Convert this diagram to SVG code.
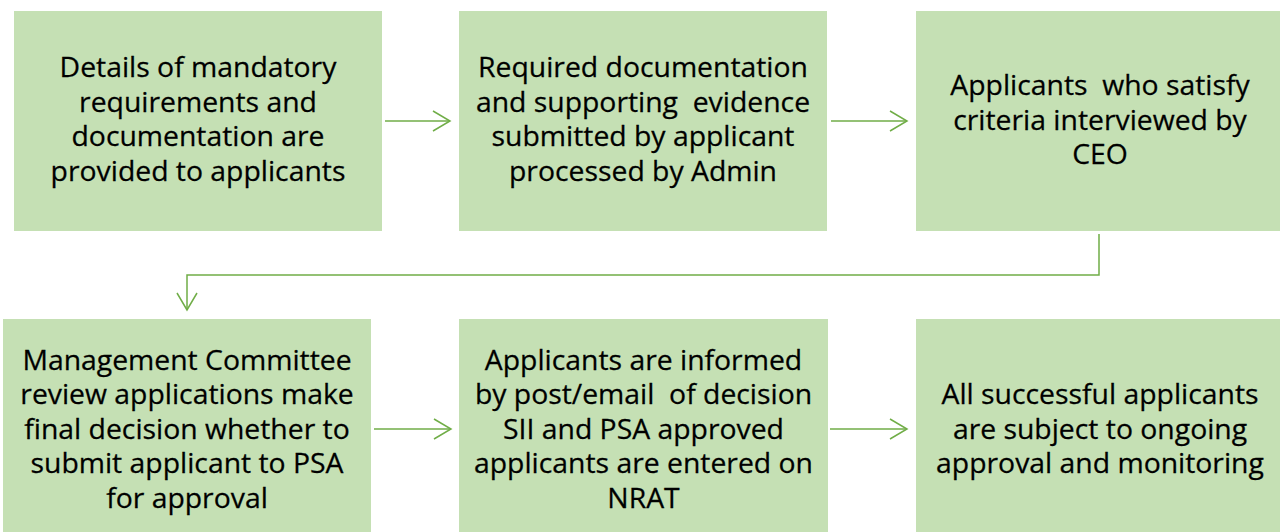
<svg xmlns="http://www.w3.org/2000/svg" width="1280" height="532" viewBox="0 0 1280 532">
  <style>
    .box { fill: #C5E0B4; }
    .lbl { font-family: "Open Sans", "Noto Sans", "Liberation Sans", sans-serif; font-size: 27px; fill: #000000; stroke: #000000; stroke-width: 0.25; text-anchor: middle; white-space: pre; }
    .conn { fill: none; stroke: #70AD47; stroke-width: 1.5; }
  </style>
  <defs>
    <marker id="chevron" markerUnits="userSpaceOnUse" markerWidth="22" markerHeight="24" viewBox="0 0 22 24" refX="19" refY="12" orient="auto">
      <path d="M2,2 L19,12 L2,22" fill="none" stroke="#70AD47" stroke-width="1.5"/>
    </marker>
  </defs>

  <!-- process steps, top row -->
  <g id="step-requirements">
    <rect class="box" x="14" y="11" width="368" height="220"/>
    <g transform="translate(198,0) scale(1.05,1)">
      <text class="lbl" xml:space="preserve"><tspan x="0" y="77.5">Details of mandatory</tspan><tspan x="0" y="112">requirements and</tspan><tspan x="0" y="146.5">documentation are</tspan><tspan x="0" y="181">provided to applicants</tspan></text>
    </g>
  </g>

  <g id="step-processing">
    <rect class="box" x="459" y="11" width="368" height="220"/>
    <g transform="translate(643,0) scale(1.05,1)">
      <text class="lbl" xml:space="preserve"><tspan x="0" y="77.5">Required documentation</tspan><tspan x="0" y="112">and supporting  evidence</tspan><tspan x="0" y="146.5">submitted by applicant</tspan><tspan x="0" y="181">processed by Admin</tspan></text>
    </g>
  </g>

  <g id="step-interview">
    <rect class="box" x="916" y="11" width="368" height="220"/>
    <g transform="translate(1100,0) scale(1.05,1)">
      <text class="lbl" xml:space="preserve"><tspan x="0" y="95.5">Applicants  who satisfy</tspan><tspan x="0" y="130">criteria interviewed by</tspan><tspan x="0" y="164.5">CEO</tspan></text>
    </g>
  </g>

  <!-- process steps, bottom row -->
  <g id="step-committee">
    <rect class="box" x="3" y="319" width="368" height="220"/>
    <g transform="translate(187,0) scale(1.05,1)">
      <text class="lbl" xml:space="preserve"><tspan x="0" y="370">Management Committee</tspan><tspan x="0" y="404.5">review applications make</tspan><tspan x="0" y="439">final decision whether to</tspan><tspan x="0" y="473.5">submit applicant to PSA</tspan><tspan x="0" y="508">for approval</tspan></text>
    </g>
  </g>

  <g id="step-notification">
    <rect class="box" x="459" y="319" width="369" height="220"/>
    <g transform="translate(643.5,0) scale(1.05,1)">
      <text class="lbl" xml:space="preserve"><tspan x="0" y="370">Applicants are informed</tspan><tspan x="0" y="404.5">by post/email  of decision</tspan><tspan x="0" y="439">SII and PSA approved</tspan><tspan x="0" y="473.5">applicants are entered on</tspan><tspan x="0" y="508">NRAT</tspan></text>
    </g>
  </g>

  <g id="step-monitoring">
    <rect class="box" x="916" y="319" width="368" height="220"/>
    <g transform="translate(1100,0) scale(1.05,1)">
      <text class="lbl" xml:space="preserve"><tspan x="0" y="404.5">All successful applicants</tspan><tspan x="0" y="439">are subject to ongoing</tspan><tspan x="0" y="473.5">approval and monitoring</tspan></text>
    </g>
  </g>

  <!-- flow connectors -->
  <g id="connectors">
    <path class="conn" d="M385,121 H450" marker-end="url(#chevron)"/>
    <path class="conn" d="M831,121 H907" marker-end="url(#chevron)"/>
    <path class="conn" d="M1099,234 V275 H187 V310" marker-end="url(#chevron)"/>
    <path class="conn" d="M374,429 H451" marker-end="url(#chevron)"/>
    <path class="conn" d="M830,429 H907" marker-end="url(#chevron)"/>
  </g>
</svg>
